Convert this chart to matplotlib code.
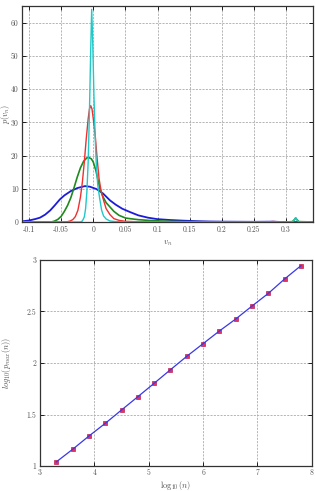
import numpy as np
import matplotlib
matplotlib.use('Agg')
import matplotlib.pyplot as plt

plt.rcParams['font.family'] = ['cmr10', 'DejaVu Serif']
plt.rcParams['mathtext.fontset'] = 'cm'
plt.rcParams['axes.unicode_minus'] = False

# top panel: distributions p(v_n)
cyan_x = [-0.111, -0.020, -0.017, -0.014, -0.012, -0.010, -0.008, -0.006, -0.004, -0.0025,
          -0.001, 0.001, 0.003, 0.005, 0.007, 0.010, 0.013, 0.016, 0.020, 0.026, 0.035,
          0.06, 0.10, 0.30, 0.31, 0.313, 0.315, 0.317, 0.32, 0.342]
cyan_y = [0, 0, 0.3, 1.5, 4, 9, 18, 33, 52, 64,
          55, 38, 25, 16, 11, 7, 3.5, 1.8, 0.9, 0.3, 0.1,
          0.03, 0, 0, 0.05, 0.6, 1.3, 0.6, 0.05, 0]
red_x = [-0.111, -0.05, -0.040, -0.036, -0.032, -0.028, -0.024, -0.020, -0.017, -0.014,
         -0.011, -0.008, -0.006, -0.004, -0.002, 0.000, 0.003, 0.006, 0.009, 0.012,
         0.016, 0.020, 0.026, 0.032, 0.040, 0.05, 0.07, 0.10, 0.27, 0.28, 0.29, 0.342]
red_y = [0, 0, 0.1, 0.3, 0.7, 1.6, 3.5, 7.5, 12, 18,
         25, 31, 34, 35, 34, 31, 26, 19, 13, 9.5,
         6.5, 4, 2.2, 1.0, 0.5, 0.2, 0.05, 0, 0, 0.15, 0, 0]
green_x = [-0.111, -0.065, -0.060, -0.055, -0.050, -0.045, -0.040, -0.035, -0.030, -0.025,
           -0.020, -0.015, -0.010, -0.007, -0.003, 0.000, 0.004, 0.008, 0.0104, 0.015,
           0.020, 0.026, 0.032, 0.040, 0.050, 0.057, 0.07, 0.088, 0.11, 0.14, 0.18, 0.22,
           0.30, 0.31, 0.313, 0.315, 0.317, 0.32, 0.342]
green_y = [0, 0, 0.3, 0.8, 1.7, 3.2, 5.0, 7.3, 10.3, 13.5,
           16.3, 18.3, 19.3, 19.4, 19.0, 18.0, 15.5, 12.0, 10.0, 7.6,
           5.8, 4.5, 3.2, 2.0, 1.2, 1.0, 0.7, 0.45, 0.25, 0.1, 0.04, 0,
           0, 0.1, 0.7, 1.2, 0.7, 0.1, 0]
blue_x = [-0.111, -0.100, -0.090, -0.083, -0.075, -0.067, -0.060, -0.052, -0.045, -0.035,
          -0.025, -0.013, -0.005, 0.005, 0.015, 0.026, 0.035, 0.045, 0.057, 0.070,
          0.085, 0.100, 0.119, 0.140, 0.160, 0.180, 0.200, 0.250, 0.280, 0.290, 0.342]
blue_y = [0.2, 0.45, 0.9, 1.3, 2.2, 3.5, 5.0, 6.8, 8.0, 9.3,
          10.2, 10.8, 10.6, 9.9, 8.6, 6.5, 5.2, 4.0, 3.0, 2.0,
          1.3, 0.85, 0.6, 0.4, 0.25, 0.15, 0.1, 0.05, 0.1, 0.02, 0]

top_xticks = [-0.1, -0.05, 0, 0.05, 0.1, 0.15, 0.2, 0.25, 0.3]
top_xlabels = ['-0.1', '-0.05', '0', '0.05', '0.1', '0.15', '0.2', '0.25', '0.3']
top_yticks = [0, 10, 20, 30, 40, 50, 60]

# bottom panel: log10(p_max(n)) vs log10(n)
log_n = [3.3, 3.6, 3.9, 4.2, 4.5, 4.8, 5.1, 5.4, 5.7, 6.0, 6.3, 6.6, 6.9, 7.2, 7.5, 7.8]
log_pmax = [1.04, 1.162, 1.291, 1.414, 1.544, 1.673, 1.803, 1.935,
            2.065, 2.188, 2.311, 2.427, 2.553, 2.676, 2.816, 2.945]
bot_xticks = [3, 4, 5, 6, 7, 8]
bot_yticks = [1, 1.5, 2, 2.5, 3]
bot_ylabels = ['1', '1.5', '2', '2.5', '3']

fig = plt.figure(figsize=(3.15, 4.91), dpi=100)
ax1 = fig.add_axes([0.0698, 0.5479, 0.9239, 0.4399])
ax2 = fig.add_axes([0.127, 0.0509, 0.863, 0.4196])

tick_col = '#555555'
for ax in (ax1, ax2):
    ax.grid(True, color='#aaaaaa', linestyle=(0, (2.5, 1.5)), linewidth=0.6)
    ax.tick_params(direction='in', length=3, width=0.6, top=True, right=True,
                   labelsize=5.5, labelcolor=tick_col, pad=2.5)
    for s in ax.spines.values():
        s.set_linewidth(0.9)
        s.set_color('#333333')
    ax.set_axisbelow(True)

ax1.plot(blue_x, blue_y, color='#1c1cd8', lw=1.3)
ax1.plot(green_x, green_y, color='#1f8a1f', lw=1.2)
ax1.plot(red_x, red_y, color='#f03030', lw=1.0)
ax1.plot(cyan_x, cyan_y, color='#22c8c8', lw=1.0)
ax1.set_xlim(-0.111, 0.342)
ax1.set_ylim(0, 65)
ax1.set_xticks(top_xticks)
ax1.set_xticklabels(top_xlabels)
ax1.set_yticks(top_yticks)
ax1.set_xlabel(r'$v_n$', fontsize=6, color=tick_col)
ax1.xaxis.set_label_coords(0.5, -0.075)
ax1.set_ylabel(r'$p(v_n)$', fontsize=6, color=tick_col)
ax1.yaxis.set_label_coords(-0.036, 0.5)

ax2.plot(log_n, log_pmax, 's', color='#e8305a', ms=3, mec='#c02050', mew=0.5)
ax2.plot(log_n, log_pmax, '-', color='#3838e8', lw=0.9)
ax2.set_xlim(3, 8)
ax2.set_ylim(1, 3)
ax2.set_xticks(bot_xticks)
ax2.set_yticks(bot_yticks)
ax2.set_yticklabels(bot_ylabels)
ax2.tick_params(axis='x', pad=2)
ax2.set_xlabel(r'$\log_{10}(n)$', fontsize=6, color=tick_col)
ax2.xaxis.set_label_coords(0.5, -0.062)
ax2.set_ylabel(r'$log_{10}(p_{max}(n))$', fontsize=6, color=tick_col)
ax2.yaxis.set_label_coords(-0.1, 0.5)

fig.savefig('out.png', dpi=100)
